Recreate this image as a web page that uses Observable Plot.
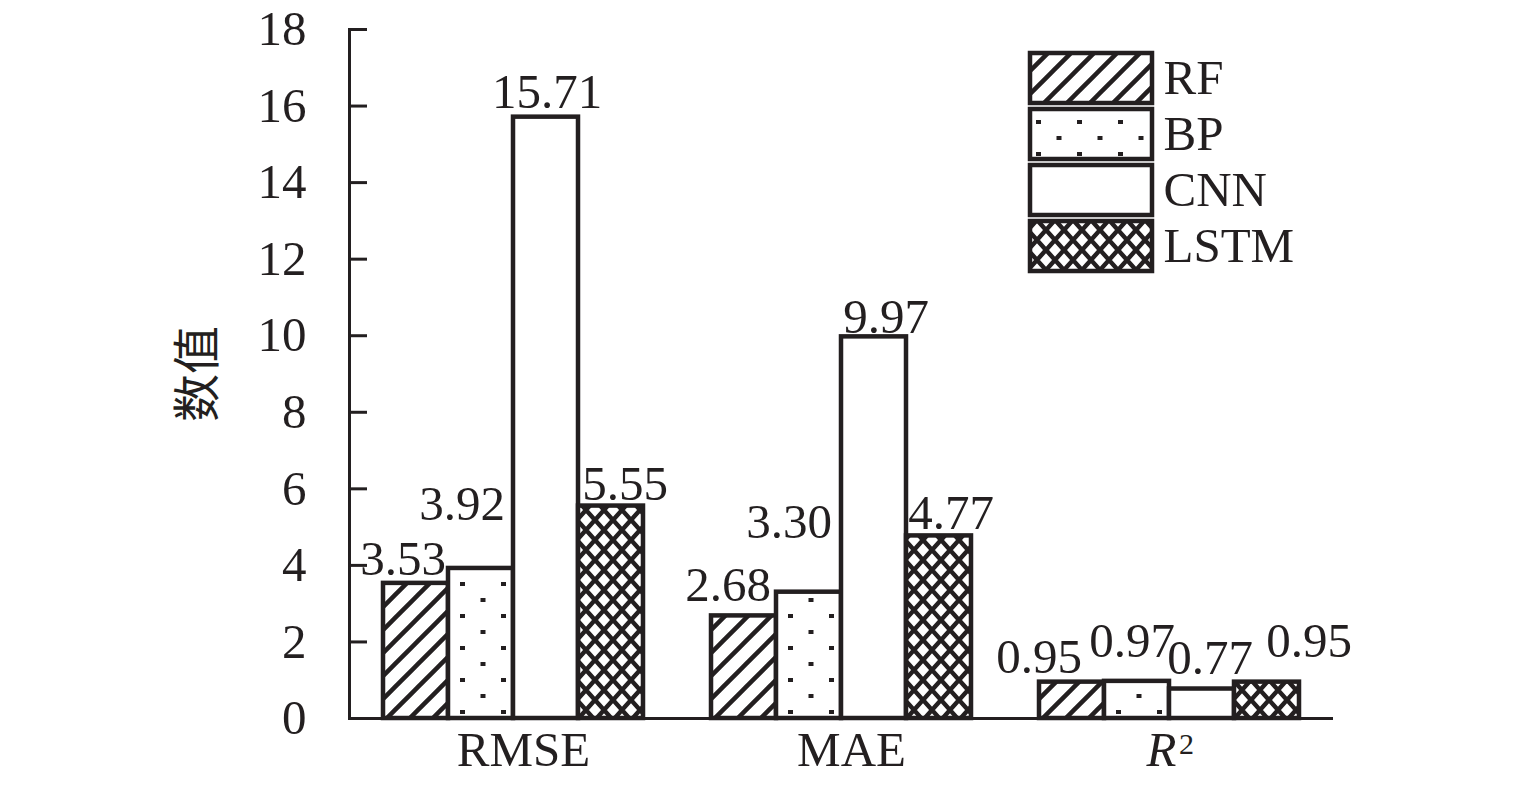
<!DOCTYPE html>
<html><head><meta charset="utf-8">
<script src="https://cdn.jsdelivr.net/npm/d3@7"></script>
<script src="https://cdn.jsdelivr.net/npm/@observablehq/plot@0.6"></script>
<style>
html,body{margin:0;padding:0;background:#fff;overflow:hidden}
#wrap{position:relative;width:1535px;height:786px}
#legend{position:absolute;left:1028px;top:50px}
</style></head><body>
<svg width="0" height="0" style="position:absolute">
<defs>
<pattern id="pat-rf" patternUnits="userSpaceOnUse" width="23" height="23">
<rect width="23" height="23" fill="#fff"/>
<path d="M-6,6 L6,-6 M0,23 L23,0 M17,29 L29,17" stroke="#231f20" stroke-width="4.5"/>
</pattern>
<pattern id="pat-bp" patternUnits="userSpaceOnUse" width="41" height="32">
<rect width="41" height="32" fill="#fff"/>
<rect x="8" y="6" width="5" height="4" fill="#231f20"/>
<rect x="28.5" y="22" width="5" height="4" fill="#231f20"/>
</pattern>
<pattern id="pat-lstm" patternUnits="userSpaceOnUse" width="18" height="20">
<rect width="18" height="20" fill="#fff"/>
<path d="M-9,-10 L27,30 M27,-10 L-9,30" stroke="#231f20" stroke-width="4.5"/>
</pattern>
</defs></svg>
<div id="wrap"><div id="legend"></div></div>
<script>
// ---- data ----
const metrics = ["RMSE", "MAE", "R2"];
const metricLabels = ["RMSE", "MAE"];
const models = ["RF", "BP", "CNN", "LSTM"];
const rfValues = [3.53, 2.68, 0.95];
const bpValues = [3.92, 3.30, 0.97];
const cnnValues = [15.71, 9.97, 0.77];
const lstmValues = [5.55, 4.77, 0.95];
const yTicks = [0, 2, 4, 6, 8, 10, 12, 14, 16, 18];
const yLabel = "数值";

// ---- styling / layout ----
const ink = "#231f20";
const modelFill = {RF: "url(#pat-rf)", BP: "url(#pat-bp)", CNN: "#ffffff", LSTM: "url(#pat-lstm)"};
// label nudges [dx, dy] (pixels, relative to bar centre / bar top)
const labelNudge = {
  "RMSE|RF": [-13, -8], "RMSE|BP": [-19, -48], "RMSE|CNN": [1, -9], "RMSE|LSTM": [14, -6],
  "MAE|RF": [-16, -15], "MAE|BP": [-20, -54], "MAE|CNN": [12, -4], "MAE|LSTM": [12, -7],
  "R2|RF": [-33, -9], "R2|BP": [-5, -24], "R2|CNN": [8, -15], "R2|LSTM": [42, -25]
};
const FS = 49;

const seriesValues = {RF: rfValues, BP: bpValues, CNN: cnnValues, LSTM: lstmValues};
const rows = metrics.flatMap((metric, i) => models.map(model => ({metric, model, value: seriesValues[model][i]})));

const barMarks = models.map(m => Plot.barY(rows.filter(d => d.model === m), {
  fx: "metric", x: "model", y: "value",
  fill: modelFill[m], stroke: ink, strokeWidth: 4.5
}));
const labelMarks = rows.map(d => {
  const [dx, dy] = labelNudge[d.metric + "|" + d.model];
  return Plot.text([d], {fx: "metric", x: "model", y: "value", text: r => r.value.toFixed(2),
    dx, dy, lineAnchor: "bottom", fontSize: FS, fill: ink});
});

const chart = Plot.plot({
  width: 1535, height: 786,
  marginLeft: 348, marginRight: 202, marginTop: 29, marginBottom: 68,
  style: {fontFamily: "'Liberation Serif', 'Times New Roman', serif", fontSize: FS + "px", color: ink, background: "#fff"},
  fx: {domain: metrics, padding: 0, axis: null},
  x: {domain: models, paddingInner: 0, paddingOuter: 0.5, axis: null},
  y: {domain: [0, 18], axis: null},
  marks: [
    ...barMarks,
    Plot.ruleY([0], {stroke: ink, strokeWidth: 3}),
    Plot.frame({anchor: "left", facetAnchor: "left", stroke: ink, strokeWidth: 3}),
    Plot.axisY({ticks: yTicks, tickSize: -18, tickPadding: 61, stroke: ink, strokeWidth: 3,
      fontSize: FS, fill: ink, label: null, tickFormat: d => String(d)}),
    Plot.text(metricLabels, {fx: d => d, text: d => d, frameAnchor: "bottom", lineAnchor: "bottom",
      dx: 10, dy: 47, fontSize: FS, fill: ink}),
    Plot.text(["R2"], {fx: d => d, text: () => "R", frameAnchor: "bottom", lineAnchor: "bottom",
      dx: -8, dy: 47, fontSize: FS, fontStyle: "italic", fill: ink}),
    Plot.text(["R2"], {fx: d => d, text: () => "2", frameAnchor: "bottom", lineAnchor: "bottom",
      dx: 17, dy: 35, fontSize: 30, fill: ink}),
    Plot.text([yLabel], {text: d => d, frameAnchor: "left", facetAnchor: "left", textAnchor: "middle",
      dx: -151, rotate: -90, fontSize: 48, fontFamily: "'Noto Sans CJK SC', sans-serif", fill: ink}),
    ...labelMarks
  ]
});
document.getElementById("wrap").prepend(chart);

const legend = Plot.plot({
  width: 320, height: 224,
  marginLeft: 2, marginRight: 196, marginTop: 2, marginBottom: 2,
  style: {fontFamily: "'Liberation Serif', 'Times New Roman', serif", fontSize: FS + "px", color: ink, background: "transparent", overflow: "visible"},
  x: {domain: [0, 1], axis: null},
  y: {domain: models, paddingInner: 0.1, paddingOuter: 0, axis: null},
  marks: [
    ...models.map(m => Plot.barX([m], {y: d => d, x1: 0, x2: 1, fill: modelFill[m], stroke: ink, strokeWidth: 4.5})),
    Plot.text(models, {y: d => d, x: 1, text: d => d, dx: 11, textAnchor: "start", fontSize: FS, fill: ink})
  ]
});
document.getElementById("legend").appendChild(legend);
</script>
</body></html>
